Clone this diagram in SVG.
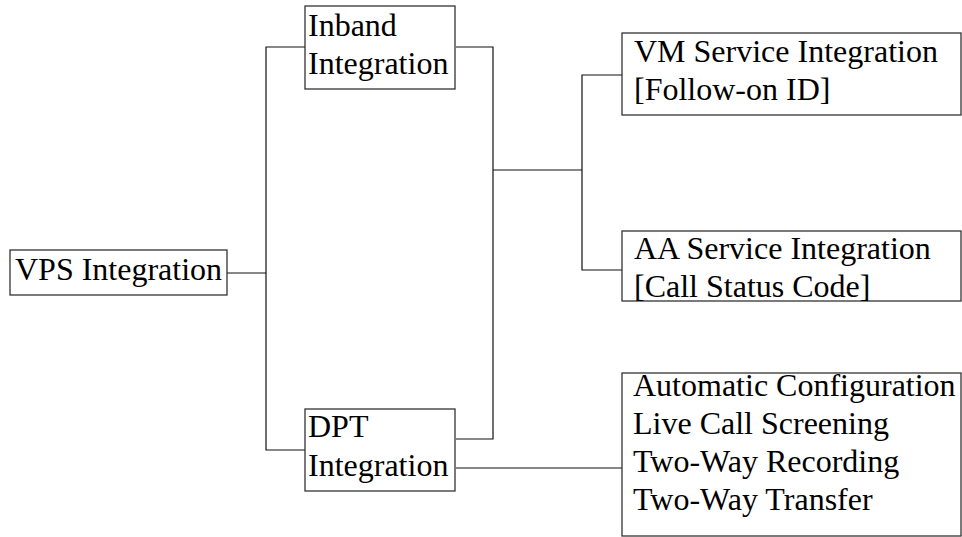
<svg xmlns="http://www.w3.org/2000/svg" width="962" height="537" viewBox="0 0 962 537">
<style>
.box{fill:#fff;stroke:#333;stroke-width:1.3}
.t{font-family:"Liberation Serif","Times New Roman",serif;font-size:32px;fill:#000}
.c{fill:none;stroke:#111;stroke-width:1.2}
</style>
<rect width="962" height="537" fill="#fff"/>
<g id="connectors">
<polyline class="c" points="227,273 266,273"/>
<polyline class="c" points="305,47 266,47 266,450 305,450"/>
<polyline class="c" points="456,47 493,47 493,439 456,439"/>
<polyline class="c" points="493,170 582,170"/>
<polyline class="c" points="622,75 582,75 582,270 622,270"/>
<polyline class="c" points="456,468 622,468"/>
</g>
<g id="vps">
<rect class="box" x="10" y="250" width="217" height="45"/>
<text class="t" x="15" y="280">VPS Integration</text>
</g>
<g id="inband">
<rect class="box" x="305" y="6" width="150" height="83"/>
<text class="t" x="308" y="36">Inband</text>
<text class="t" x="308" y="74">Integration</text>
</g>
<g id="dpt">
<rect class="box" x="305" y="409" width="150" height="82"/>
<text class="t" x="308" y="437">DPT</text>
<text class="t" x="308" y="476">Integration</text>
</g>
<g id="vm">
<rect class="box" x="622" y="33" width="339" height="82"/>
<text class="t" x="634" y="62">VM Service Integration</text>
<text class="t" x="634" y="100">[Follow-on ID]</text>
</g>
<g id="aa">
<rect class="box" x="622" y="231" width="339" height="70"/>
<text class="t" x="634" y="259">AA Service Integration</text>
<text class="t" x="634" y="297">[Call Status Code]</text>
</g>
<g id="features">
<rect class="box" x="622" y="373" width="339" height="163"/>
<text class="t" x="633" y="396">Automatic Configuration</text>
<text class="t" x="633" y="434">Live Call Screening</text>
<text class="t" x="633" y="472">Two-Way Recording</text>
<text class="t" x="633" y="510">Two-Way Transfer</text>
</g>
</svg>
